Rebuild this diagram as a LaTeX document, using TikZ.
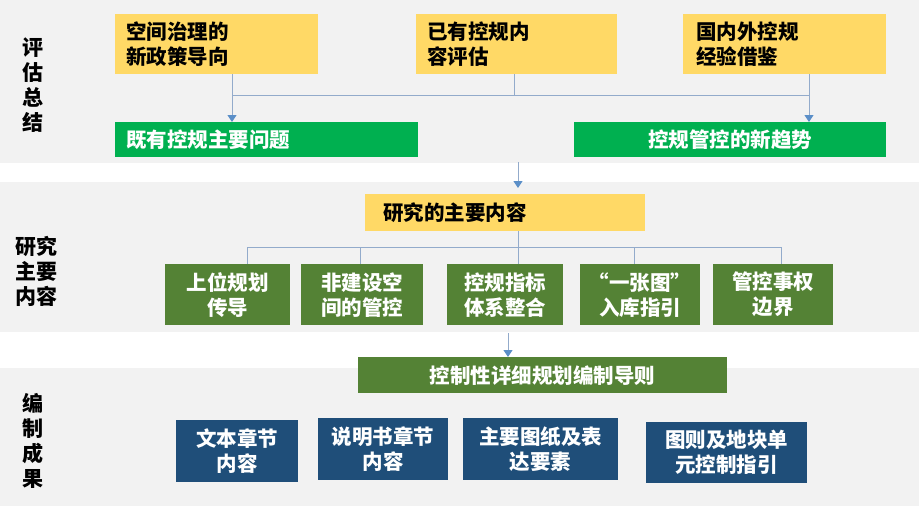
\documentclass[tikz,border=0pt]{standalone}
\usepackage{fontspec}
\newfontfamily\cjk{Noto Sans CJK SC}
\usetikzlibrary{arrows.meta}
\definecolor{bandgray}{HTML}{F2F2F2}
\definecolor{cyellow}{HTML}{FFD966}
\definecolor{cgreen}{HTML}{00B050}
\definecolor{colive}{HTML}{548235}
\definecolor{cnavy}{HTML}{1F4E79}
\definecolor{cline}{HTML}{93ABCB}
\definecolor{ctip}{HTML}{5B8FC8}
\begin{document}
\begin{tikzpicture}[x=1pt,y=-1pt,
    every node/.style={inner sep=0pt,font=\cjk\bfseries\fontsize{20.5}{25}\selectfont},
    ybox/.style={fill=cyellow,text=black},
    gbox/.style={fill=cgreen,text=white},
    obox/.style={fill=colive,text=white,align=center},
    nbox/.style={fill=cnavy,text=white,align=center},
    link/.style={draw=cline,line width=0.9pt},
    arr/.style={link,-{Triangle[width=9pt,length=7pt,color=ctip]}}]
    \useasboundingbox (0,0) rectangle (919,506);
    % bands
    \fill [bandgray] (0,0) rectangle (919,163);
    \fill [bandgray] (0,182) rectangle (919,332);
    \fill [bandgray] (0,368) rectangle (919,506);
    % side labels
    \node [align=center,font=\cjk\bfseries\fontsize{21}{25}\selectfont] (lab1) at (33,85) {评\\估\\总\\结};
    \node [align=center,font=\cjk\bfseries\fontsize{21}{25}\selectfont] (lab2) at (37,271) {研究\\主要\\内容};
    \node [align=center,font=\cjk\bfseries\fontsize{21}{25}\selectfont] (lab3) at (33,441) {编\\制\\成\\果};
    % evaluation
    \node [ybox,anchor=north west,minimum height=60pt,text width=181pt,inner xsep=11pt,align=left] (y1) at (115,14) {空间治理的\\新政策导向};
    \node [ybox,anchor=north west,minimum height=60pt,text width=179pt,inner xsep=11pt,align=left] (y2) at (416,14) {已有控规内\\容评估};
    \node [ybox,anchor=north west,minimum height=60pt,text width=177pt,inner xsep=13pt,align=left] (y3) at (683,14) {国内外控规\\经验借鉴};
    \node [gbox,anchor=north west,minimum height=35pt,text width=281pt,inner xsep=11pt,align=left] (g1) at (115,122) {既有控规主要问题};
    \node [gbox,anchor=north west,minimum height=35pt,minimum width=312pt] (g2) at (574,122) {控规管控的新趋势};
    \coordinate (ja) at (232,95);
    \coordinate (jb) at (514,95);
    \coordinate (jc) at (809,95);
    \draw [link] (y1.south -| ja) -- (ja) -- (jc);
    \draw [link] (y2.south -| jb) -- (jb);
    \draw [arr] (ja) -- (g1.north -| ja);
    \draw [arr] (y3.south -| jc) -- (g2.north -| jc);
    % research
    \node [ybox,anchor=north west,minimum height=37pt,text width=244pt,inner xsep=18pt,align=left] (ym) at (365,194) {研究的主要内容};
    \coordinate (top2) at (518,162);
    \draw [arr,shorten >=6pt] (top2) -- (ym.north -| top2);
    \node [obox,anchor=north west,minimum height=61pt,minimum width=125pt] (da) at (165,264) {上位规划\\传导};
    \node [obox,anchor=north west,minimum height=61pt,minimum width=122pt] (db) at (301,264) {非建设空\\间的管控};
    \node [obox,anchor=north west,minimum height=61pt,minimum width=116pt] (dc) at (447,264) {控规指标\\体系整合};
    \node [obox,anchor=north west,minimum height=61pt,minimum width=120pt] (dd) at (580,264) {“一张图”\\入库指引};
    \node [obox,anchor=north west,minimum height=61pt,minimum width=120pt] (de) at (713,264) {管控事权\\边界};
    \coordinate (jm) at (518,247);
    \coordinate (k1) at (247,247);
    \coordinate (k2) at (360,247);
    \coordinate (k4) at (634,247);
    \coordinate (k5) at (781,247);
    \draw [link] (k1) -- (k5);
    \draw [link] (ym.south -| jm) -- (dc.north -| jm);
    \foreach \k/\b in {k1/da,k2/db,k4/dd,k5/de}
        \draw [link] (\k) -- (\b.north -| \k);
    % results
    \node [obox,anchor=north west,minimum height=36pt,minimum width=369pt] (guide) at (358,357) {控制性详细规划编制导则};
    \coordinate (top3) at (508,333);
    \draw [arr] (top3) -- (guide.north -| top3);
    \node [nbox,anchor=north west,minimum height=62pt,minimum width=122pt] (b1) at (176,420) {文本章节\\内容};
    \node [nbox,anchor=north west,minimum height=62pt,minimum width=130pt] (b2) at (318,418) {说明书章节\\内容};
    \node [nbox,anchor=north west,minimum height=62pt,minimum width=155pt] (b3) at (463,418) {主要图纸及表\\达要素};
    \node [nbox,anchor=north west,minimum height=61pt,minimum width=161pt] (b4) at (646,422) {图则及地块单\\元控制指引};
\end{tikzpicture}
\end{document}
